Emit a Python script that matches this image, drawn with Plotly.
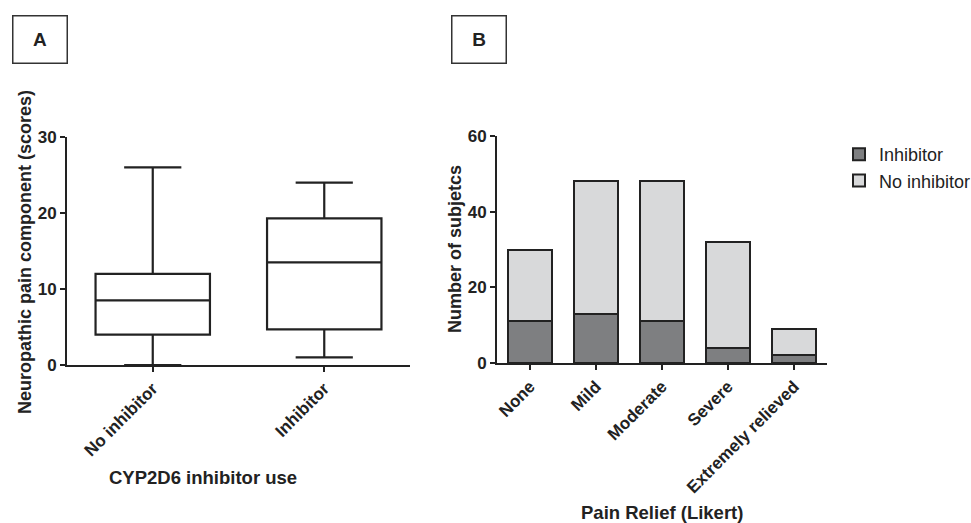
import plotly.graph_objects as go

# ---- data ----
box_groups = ["No inhibitor", "Inhibitor"]
box_lower = [0, 1]
box_q1 = [4, 4.7]
box_median = [8.5, 13.5]
box_q3 = [12, 19.3]
box_upper = [26, 24]

relief_cats = ["None", "Mild", "Moderate", "Severe", "Extremely relieved"]
inhibitor_counts = [11, 13, 11, 4, 2]
no_inhibitor_counts = [19, 35, 37, 28, 7]

W, H = 971, 523
def px(x):
    return x / W
def py(y):
    return 1 - y / H

INK = "#222222"
FONT = "Liberation Sans, Arial, sans-serif"

fig = go.Figure()

fig.add_trace(go.Box(
    x=box_groups, q1=box_q1, median=box_median, q3=box_q3,
    lowerfence=box_lower, upperfence=box_upper,
    fillcolor="white", line=dict(color=INK, width=2.2),
    width=0.667, whiskerwidth=0.5, boxpoints=False,
    showlegend=False, hoverinfo="skip",
    xaxis="x", yaxis="y",
))

fig.add_trace(go.Bar(
    x=relief_cats, y=inhibitor_counts, name="Inhibitor",
    marker=dict(color="#7e7f81", line=dict(color=INK, width=2)),
    width=0.667, xaxis="x2", yaxis="y2",
))
fig.add_trace(go.Bar(
    x=relief_cats, y=no_inhibitor_counts, name="No inhibitor",
    marker=dict(color="#d8d9da", line=dict(color=INK, width=2)),
    width=0.667, xaxis="x2", yaxis="y2",
))

tickfont = dict(family=FONT, size=17, color=INK, weight="bold")
axis_common = dict(showline=True, linecolor=INK, linewidth=2, ticks="outside",
                   ticklen=5, tickwidth=2, tickcolor=INK, showgrid=False,
                   zeroline=False, tickfont=tickfont)

fig.update_layout(
    width=W, height=H,
    margin=dict(l=0, r=0, t=0, b=0, autoexpand=False),
    plot_bgcolor="white", paper_bgcolor="white",
    barmode="stack",
    font=dict(family=FONT, color=INK),
    xaxis=dict(domain=[px(67), px(410)], anchor="y", type="category",
               range=[-0.5, 1.5], tickangle=-45, **axis_common),
    yaxis=dict(domain=[py(365), py(137)], anchor="x", range=[0, 30],
               tickvals=[0, 10, 20, 30], **axis_common),
    xaxis2=dict(domain=[px(497), px(827)], anchor="y2", type="category",
                range=[-0.5, 4.5], tickangle=-45, **axis_common),
    yaxis2=dict(domain=[py(363), py(136)], anchor="x2", range=[0, 60],
                tickvals=[0, 20, 40, 60], **axis_common),
    legend=dict(x=px(839), y=py(136), xanchor="left", yanchor="top",
                traceorder="normal", bgcolor="rgba(0,0,0,0)",
                font=dict(family=FONT, size=18, color=INK)),
)

ann = [
    dict(text="CYP2D6 inhibitor use", x=px(203), y=py(477), textangle=0, size=18.5),
    dict(text="Pain Relief (Likert)", x=px(662), y=py(512), textangle=0, size=18.5),
    dict(text="Neuropathic pain component (scores)", x=px(25), y=py(252), textangle=-90, size=18),
    dict(text="Number of subjetcs", x=px(455), y=py(249), textangle=-90, size=18),
]
for a in ann:
    size = a.pop("size")
    fig.add_annotation(xref="paper", yref="paper", xanchor="center", yanchor="middle",
                       showarrow=False,
                       font=dict(family=FONT, size=size, color=INK, weight="bold"), **a)

for label, cx in [("A", 40), ("B", 479)]:
    fig.add_annotation(text=label, xref="paper", yref="paper", x=px(cx), y=py(39),
                       xanchor="center", yanchor="middle", showarrow=False,
                       width=53, height=46, align="center", valign="middle",
                       bordercolor="#333333", borderwidth=1.5, borderpad=0,
                       font=dict(family=FONT, size=19, color=INK, weight="bold"))

fig.write_html("out.html",
               config={"displayModeBar": False},
               post_script="document.body.style.margin='0';document.body.style.overflow='hidden';")
